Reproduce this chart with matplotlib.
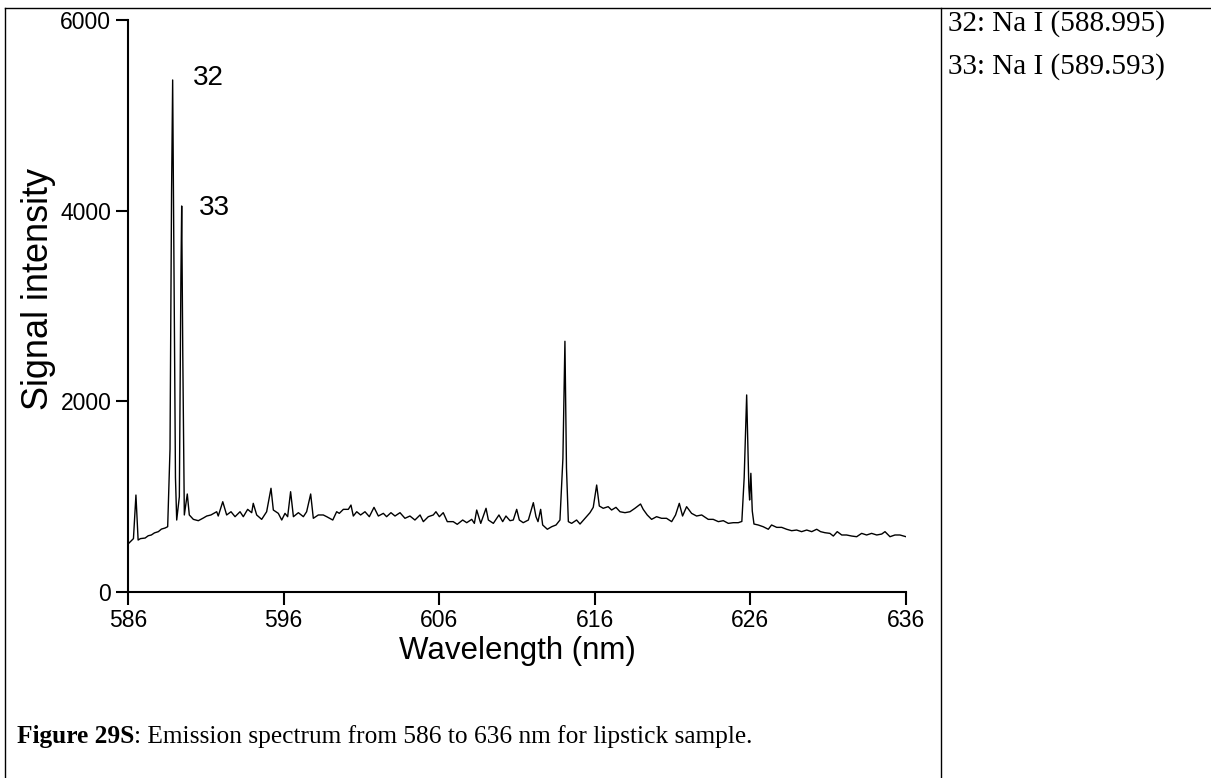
import matplotlib
matplotlib.use("Agg")
import matplotlib.pyplot as plt
from matplotlib.lines import Line2D

# spectrum (wavelength nm, signal)
wavelength = [
    586.0, 586.35, 586.51, 586.65, 586.8, 587.1, 587.3, 587.5, 587.7, 587.95,
    588.15, 588.38, 588.55, 588.7, 588.8, 588.87, 588.95, 589.05, 589.13, 589.3,
    589.4, 589.45, 589.52, 589.62, 589.81, 589.94, 590.2, 590.52, 590.84, 591.06,
    591.33, 591.7, 591.8, 592.09, 592.34, 592.62, 592.88, 593.2, 593.41, 593.69,
    593.95, 594.05, 594.27, 594.59, 594.91, 595.19, 595.34, 595.66, 595.88, 596.09,
    596.26, 596.45, 596.63, 596.95, 597.27, 597.48, 597.74, 597.91, 598.23, 598.55,
    598.77, 599.16, 599.41, 599.58, 599.84, 600.16, 600.33, 600.48, 600.7, 600.95,
    601.23, 601.51, 601.81, 602.09, 602.41, 602.62, 602.9, 603.16, 603.48, 603.8,
    604.12, 604.44, 604.77, 604.98, 605.3, 605.62, 605.79, 606.01, 606.26, 606.52,
    606.9, 607.16, 607.51, 607.77, 608.09, 608.26, 608.41, 608.67, 609.01, 609.16,
    609.48, 609.84, 610.08, 610.29, 610.55, 610.76, 610.98, 611.15, 611.4, 611.73,
    612.05, 612.22, 612.35, 612.52, 612.65, 612.95, 613.23, 613.51, 613.76, 613.95,
    614.08, 614.18, 614.3, 614.51, 614.83, 615.05, 615.37, 615.69, 615.9, 616.12,
    616.29, 616.54, 616.86, 617.08, 617.36, 617.62, 617.94, 618.26, 618.58, 618.94,
    619.11, 619.37, 619.65, 619.97, 620.29, 620.61, 620.94, 621.19, 621.43, 621.64,
    621.9, 622.22, 622.54, 622.87, 623.29, 623.61, 623.94, 624.26, 624.58, 624.9,
    625.22, 625.45, 625.6, 625.76, 625.9, 625.95, 626.03, 626.12, 626.23, 626.5,
    626.82, 627.15, 627.36, 627.69, 628.01, 628.33, 628.65, 628.97, 629.29, 629.62,
    629.94, 630.26, 630.51, 630.79, 631.11, 631.33, 631.58, 631.87, 632.18, 632.51,
    632.83, 633.15, 633.47, 633.79, 634.12, 634.44, 634.65, 634.97, 635.29, 635.61,
    636.0,
]
intensity = [
    503, 560, 1017, 545, 560, 566, 590, 598, 620, 633,
    660, 671, 685, 1500, 4200, 5371, 3500, 1200, 755, 1000,
    3300, 4049, 2500, 808, 1028, 808, 762, 748, 776, 797,
    808, 842, 797, 947, 808, 842, 790, 842, 790, 867,
    832, 930, 808, 762, 842, 1088, 860, 825, 755, 825,
    790, 1052, 790, 832, 790, 842, 1028, 773, 808, 808,
    790, 755, 842, 825, 867, 867, 912, 797, 842, 808,
    842, 790, 888, 797, 825, 790, 832, 797, 832, 773,
    797, 755, 808, 738, 790, 808, 842, 790, 832, 738,
    738, 710, 755, 727, 762, 720, 860, 720, 878, 755,
    720, 808, 738, 797, 748, 755, 867, 755, 727, 755,
    937, 790, 738, 867, 703, 658, 685, 703, 755, 1400,
    2630, 1300, 738, 720, 755, 713, 773, 832, 888, 1122,
    902, 878, 895, 860, 888, 842, 832, 842, 878, 923,
    867, 808, 762, 790, 773, 773, 738, 808, 930, 797,
    895, 825, 797, 808, 762, 762, 738, 748, 720, 727,
    727, 740, 1200, 2067, 1100, 965, 1245, 850, 713, 703,
    685, 658, 703, 678, 678, 658, 643, 650, 633, 650,
    633, 658, 633, 622, 615, 587, 633, 598, 598, 587,
    580, 615, 598, 615, 598, 608, 633, 580, 598, 598,
    580,
]

peak_labels = ["32", "33"]
peak_pos = [(590.15, 5320), (590.57, 3950)]

x_ticks = [586, 596, 606, 616, 626, 636]
y_ticks = [0, 2000, 4000, 6000]

legend_lines = ["32: Na I (588.995)", "33: Na I (589.593)"]
caption_bold = "Figure 29S"
caption_rest = ": Emission spectrum from 586 to 636 nm for lipstick sample."

W, H = 1211, 778
fig = plt.figure(figsize=(W / 100, H / 100), dpi=100)
ax = fig.add_axes([128 / W, 1 - 592 / H, (906 - 128) / W, (592 - 20) / H])

ax.plot(wavelength, intensity, color="black", lw=1.0)
ax.set_xlim(586, 636)
ax.set_ylim(0, 6000)
ax.set_xticks(x_ticks)
ax.set_yticks(y_ticks)
for s in ["top", "right"]:
    ax.spines[s].set_visible(False)
for s in ["left", "bottom"]:
    ax.spines[s].set_linewidth(1.5)
ax.tick_params(direction="out", length=9, width=1.5, labelsize=16.5, pad=3)
for lab in ax.get_xticklabels() + ax.get_yticklabels():
    lab.set_family("Liberation Sans")
ax.set_xlabel("Wavelength (nm)", family="Liberation Sans", fontsize=22.5, labelpad=3)
ax.set_ylabel("Signal intensity", family="Liberation Sans", fontsize=26)
ax.yaxis.set_label_coords(-0.092, 0.53)

for txt, (px, py) in zip(peak_labels, peak_pos):
    ax.text(px, py, txt, family="Liberation Sans", fontsize=20, ha="left", va="baseline")

# table borders around the figure cell
for xs, ys in [([5, W], [8, 8]), ([5, 5], [8, H]), ([941, 941], [8, H])]:
    fig.add_artist(Line2D([x / W for x in xs], [1 - y / H for y in ys], color="black", lw=1.0))

for i, line in enumerate(legend_lines):
    fig.text(948 / W, 1 - (31 + i * 43) / H, line, family="Liberation Serif",
             fontsize=21, va="baseline")

t = fig.text(17 / W, 1 - 743 / H, caption_bold, family="Liberation Serif",
             fontsize=18.3, weight="bold", va="baseline")
fig.canvas.draw()
bb = t.get_window_extent()
fig.text(bb.x1 / W, 1 - 743 / H, caption_rest, family="Liberation Serif",
         fontsize=18.3, va="baseline")

fig.savefig("out.png", dpi=100)
